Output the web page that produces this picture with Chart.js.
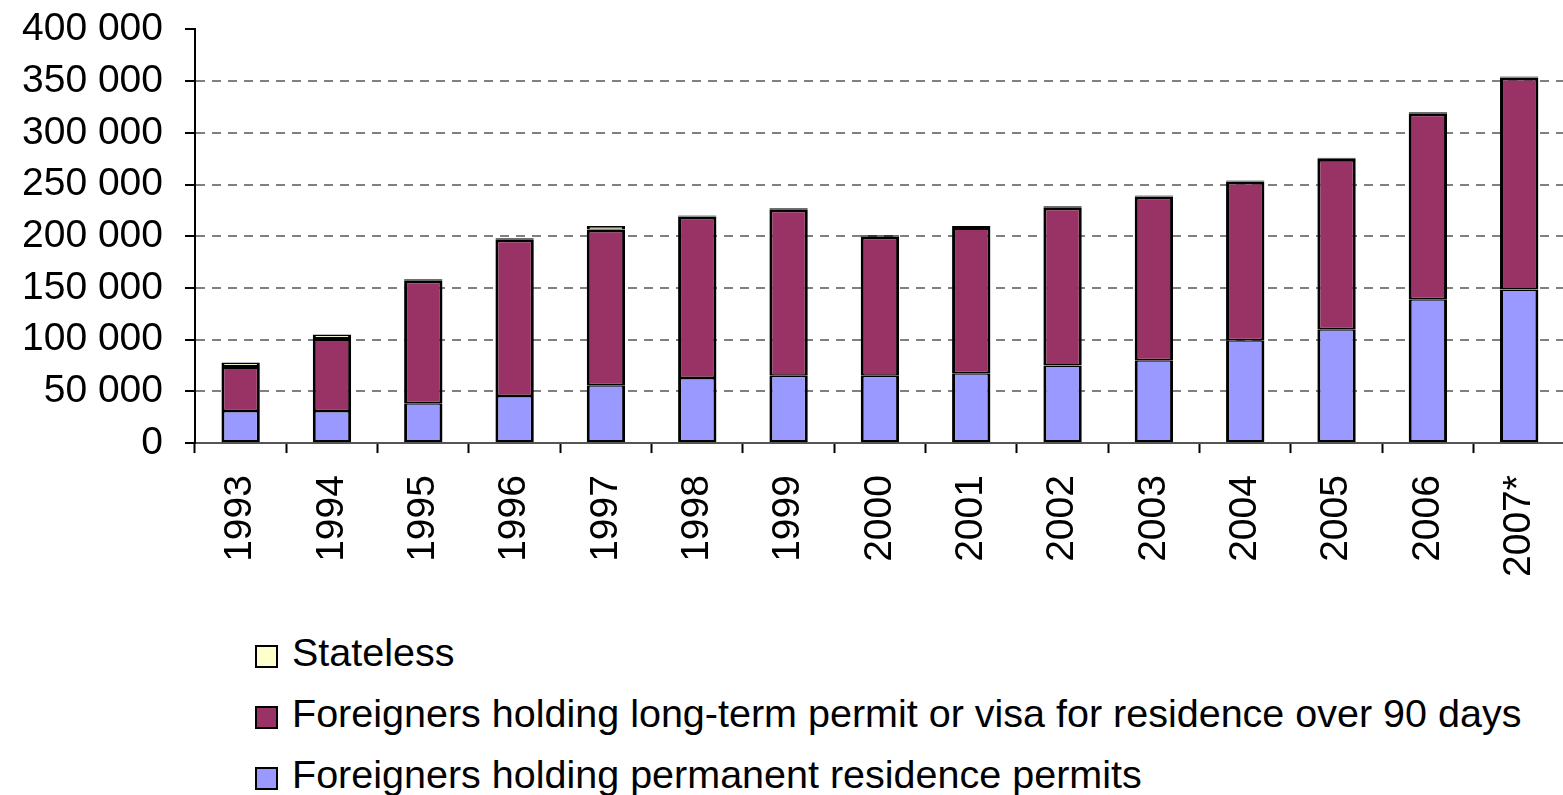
<!DOCTYPE html>
<html>
<head>
<meta charset="utf-8">
<script src="https://cdn.jsdelivr.net/npm/chart.js@4.4.0/dist/chart.umd.min.js"></script>
<style>
  body { margin: 0; background: #fff; width: 1563px; height: 795px; overflow: hidden; position: relative; }
  #wrap { position: absolute; left: 0; top: -16px; width: 1588px; height: 616px; }
  #legend { position: absolute; left: 255px; top: 627px; font-family: "Liberation Sans", Arial, sans-serif; font-size: 39.5px; color: #000; }
  #legend div { height: 61px; line-height: 50px; white-space: nowrap; }
  #legend span.box { display: inline-block; width: 19px; height: 19px; border: 2px solid #000; margin-right: 14px; vertical-align: -2px; }
</style>
</head>
<body>
<div id="wrap"><canvas id="chart"></canvas></div>
<div id="legend"></div>
<script>
// données
const years = ['1993', '1994', '1995', '1996', '1997', '1998', '1999', '2000', '2001', '2002', '2003', '2004', '2005', '2006', '2007*'];
const permanent = [31000, 31000, 38600, 45400, 56000, 63000, 65000, 65000, 67500, 75000, 80000, 99500, 110000, 139000, 148500];
const longTerm = [43500, 70500, 118900, 151600, 150500, 156000, 161000, 135000, 141500, 153000, 158500, 153500, 165000, 180000, 205000];
const stateless = [3500, 3500, 1000, 1000, 3500, 1000, 1000, 1000, 1000, 1000, 1000, 1000, 1000, 1000, 1000];
const yTicks = [0, 50000, 100000, 150000, 200000, 250000, 300000, 350000, 400000];

const labelPermanent = 'Foreigners holding permanent residence permits';
const labelLongTerm = 'Foreigners holding long-term permit or visa for residence over 90 days';
const labelStateless = 'Stateless';

const font = '"Liberation Sans", Arial, sans-serif';

// bordures : côtés épais, jonctions partagées entre segments
const datasets = [
  { label: labelPermanent, data: permanent, backgroundColor: '#9999FF',
    borderWidth: { left: 3, right: 3, bottom: 2, top: 1.5 } },
  { label: labelLongTerm, data: longTerm, backgroundColor: '#993366',
    borderWidth: { left: 3, right: 3, bottom: 1.5, top: 3 } },
  { label: labelStateless, data: stateless, backgroundColor: '#FFFFCC',
    borderWidth: { left: 3, right: 3, bottom: 1, top: 3 } }
].map(d => Object.assign(d, {
  borderColor: '#000',
  borderSkipped: false,
  barPercentage: 0.42,
  categoryPercentage: 1
}));

// légende en HTML (ordre inverse)
const legend = document.getElementById('legend');
datasets.slice().reverse().forEach(d => {
  const row = document.createElement('div');
  const box = document.createElement('span');
  box.className = 'box';
  box.style.background = d.backgroundColor;
  row.appendChild(box);
  row.appendChild(document.createTextNode(d.label));
  legend.appendChild(row);
});

const formatNumber = v => v === 0 ? '0' : String(v).replace(/\B(?=(\d{3})+(?!\d))/g, ' ');

const ctx = document.getElementById('chart').getContext('2d');
new Chart(ctx, {
  type: 'bar',
  data: { labels: years, datasets: datasets },
  options: {
    responsive: true,
    maintainAspectRatio: false,
    animation: false,
    layout: { padding: { left: 0, right: 0, top: 10, bottom: 1 } },
    plugins: { legend: { display: false }, tooltip: { enabled: false } },
    scales: {
      x: {
        stacked: true,
        grid: { drawOnChartArea: false, drawTicks: true, tickLength: 10, tickColor: '#000', tickWidth: 2, offset: true },
        border: { color: '#555', width: 2 },
        ticks: {
          color: '#000', font: { family: font, size: 39 },
          minRotation: 90, maxRotation: 90, autoSkip: false, padding: 22
        }
      },
      y: {
        stacked: true,
        min: 0,
        max: 400000,
        afterBuildTicks: axis => { axis.ticks = yTicks.map(v => ({ value: v })); },
        grid: {
          color: c => (c.tick && (c.tick.value === 0 || c.tick.value === 400000)) ? 'rgba(0,0,0,0)' : '#808080',
          lineWidth: 2,
          tickLength: 10,
          tickColor: '#000',
          tickWidth: 2,
          tickBorderDash: []
        },
        border: { color: '#000', width: 2, dash: [9, 7] },
        ticks: {
          color: '#000', font: { family: font, size: 39 }, padding: 22, autoSkip: false,
          callback: v => formatNumber(v)
        }
      }
    }
  }
});
</script>
</body>
</html>
